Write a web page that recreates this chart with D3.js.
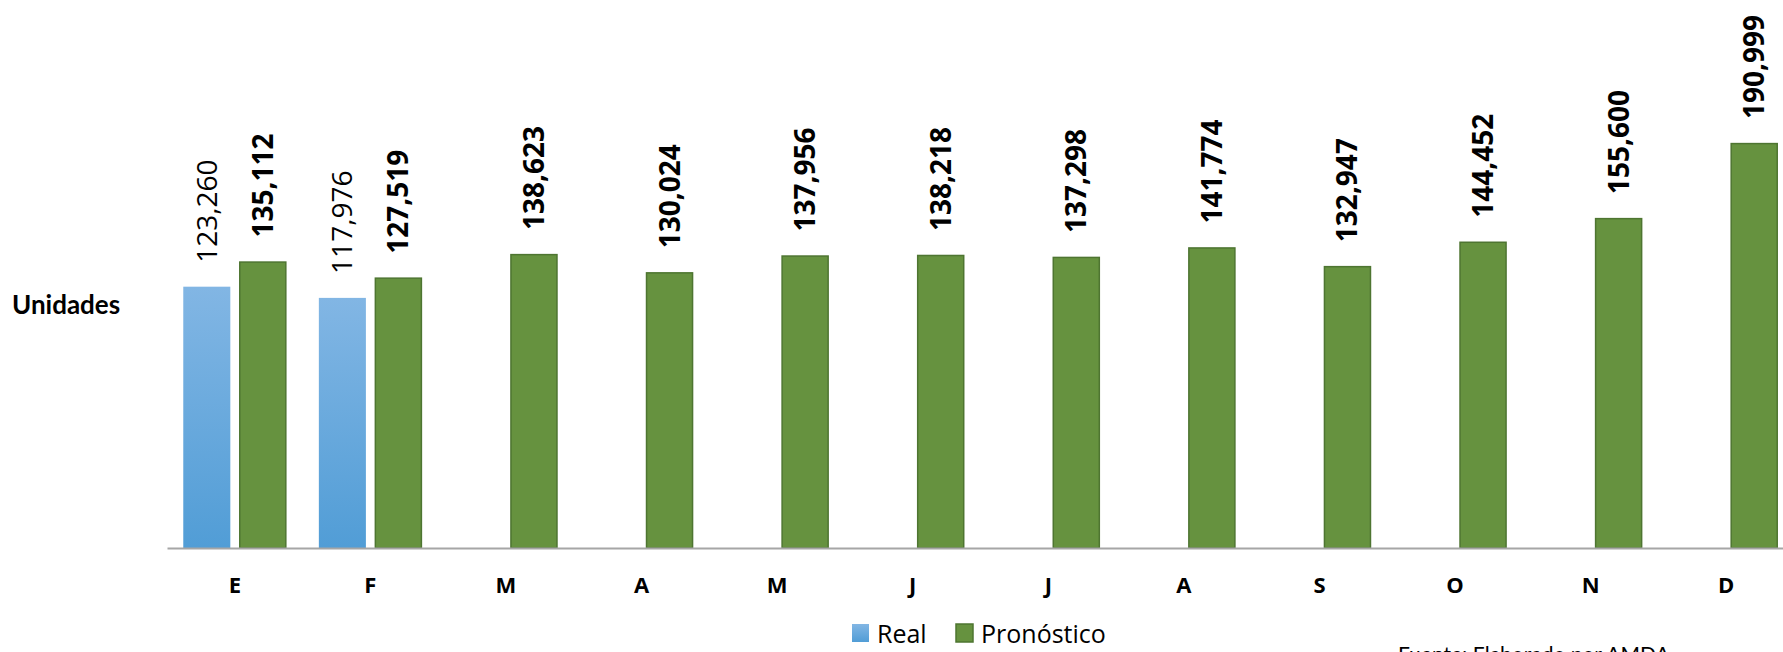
<!DOCTYPE html>
<html>
<head>
<meta charset="utf-8">
<script src="https://cdn.jsdelivr.net/npm/d3@7"></script>
<style>
  html, body { margin: 0; padding: 0; background: #fff; }
  svg { display: block; }
</style>
</head>
<body>
<svg id="chart" width="1783" height="652"></svg>
<script>
const months = ["E","F","M","A","M","J","J","A","S","O","N","D"];
const realValues = [123260, 117976, null, null, null, null, null, null, null, null, null, null];
const pronValues = [135112, 127519, 138623, 130024, 137956, 138218, 137298, 141774, 132947, 144452, 155600, 190999];
const seriesNames = ["Real", "Pronóstico"];
const yAxisTitle = "Unidades";
const sourceNote = "Fuente: Elaborado por AMDA";

const W = 1783, H = 652;
const svg = d3.select("#chart");

const defs = svg.append("defs");
const grad = defs.append("linearGradient").attr("id","blueGrad")
  .attr("x1",0).attr("y1",0).attr("x2",0).attr("y2",1);
grad.append("stop").attr("offset","0%").attr("stop-color","#82b6e4");
grad.append("stop").attr("offset","100%").attr("stop-color","#519dd6");

const idx = months.map((m,i) => i);
const x0 = d3.scaleBand().domain(idx).range([167, 1794]).paddingInner(0.24).paddingOuter(0.12);
const x1 = d3.scaleBand().domain(seriesNames).range([0, x0.bandwidth()]).paddingInner(0.16);
const y = d3.scaleLinear().domain([0, 200000]).range([548, 124]);

const fmt = d3.format(",");

const data = [];
idx.forEach(i => {
  if (realValues[i] != null) data.push({i, s: "Real", v: realValues[i]});
  if (pronValues[i] != null) data.push({i, s: "Pronóstico", v: pronValues[i]});
});

// bars
svg.append("g").selectAll("rect").data(data).join("rect")
  .attr("x", d => x0(d.i) + x1(d.s) + (d.s === "Pronóstico" ? 0.5 : 0))
  .attr("y", d => y(d.v) + (d.s === "Pronóstico" ? 0.5 : 0))
  .attr("width", d => x1.bandwidth() - (d.s === "Pronóstico" ? 1 : 0))
  .attr("height", d => y(0) - y(d.v) - (d.s === "Pronóstico" ? 0.5 : 0))
  .attr("fill", d => d.s === "Real" ? "url(#blueGrad)" : "#66923f")
  .attr("stroke", d => d.s === "Real" ? "none" : "#4e7531")
  .attr("stroke-width", 1.5);

// axis
const xAxis = d3.axisBottom(x0).tickSize(0).tickPadding(0).tickFormat(i => months[i]);
const gx = svg.append("g").attr("transform", `translate(0,${y(0)})`).call(xAxis);
gx.select(".domain").attr("stroke", "#a6a6a6").attr("stroke-width", 2);
gx.selectAll(".tick text")
  .attr("dy", 0).attr("y", 45)
  .attr("font-family", "Open Sans, sans-serif")
  .attr("font-weight", "bold")
  .attr("font-size", 22)
  .attr("fill", "#000");

// value labels
svg.append("g").selectAll("text").data(data).join("text")
  .attr("transform", d => {
    const cx = x0(d.i) + x1(d.s) + x1.bandwidth() / 2 + 10;
    const cy = y(d.v) - 24;
    return `translate(${cx},${cy}) rotate(-90)`;
  })
  .attr("text-anchor", "start")
  .attr("font-family", "Open Sans, sans-serif")
  .attr("font-size", 28)
  .attr("font-weight", d => d.s === "Real" ? 400 : 700)
  .attr("fill", "#000")
  .text(d => fmt(d.v));

// y title
svg.append("text")
  .attr("x", 12).attr("y", 314)
  .attr("font-family", "Lato, sans-serif")
  .attr("font-weight", 700)
  .attr("font-size", 26)
  .attr("fill", "#000")
  .text(yAxisTitle);

// legend
const legend = svg.append("g");
const legendItems = [
  {name: seriesNames[0], x: 852, fill: "url(#blueGrad)", stroke: "none"},
  {name: seriesNames[1], x: 956, fill: "#66923f", stroke: "#4e7531"}
];
legendItems.forEach(it => {
  legend.append("rect").attr("x", it.x).attr("y", 624).attr("width", 17).attr("height", 18)
    .attr("fill", it.fill).attr("stroke", it.stroke).attr("stroke-width", 1.5);
  legend.append("text").attr("x", it.x + 25).attr("y", 643)
    .attr("font-family", "Open Sans, sans-serif").attr("font-size", 25).attr("fill", "#000")
    .text(it.name);
});

// source
svg.append("text")
  .attr("x", 1398).attr("y", 662)
  .attr("font-family", "Lato, sans-serif")
  .attr("font-size", 21)
  .attr("fill", "#000")
  .text(sourceNote);
</script>
</body>
</html>
